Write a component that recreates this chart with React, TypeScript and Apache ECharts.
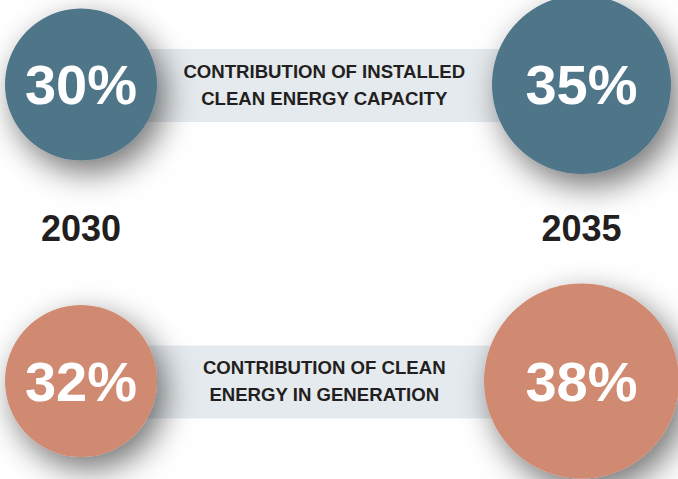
import React, { useEffect, useRef } from "react";
import * as echarts from "echarts";

const years = ["2030", "2035"];
const metrics = [
  "CONTRIBUTION OF INSTALLED\nCLEAN ENERGY CAPACITY",
  "CONTRIBUTION OF CLEAN\nENERGY IN GENERATION",
];
const values2030 = [30, 32];
const values2035 = [35, 38];

// styling (not data)
const rowColors = ["#4f7589", "#d08a72"];
const diameters = [
  [152, 179],
  [152, 195],
];
const FONT = '"Liberation Sans", Arial, Helvetica, sans-serif';

export default function App() {
  const ref = useRef<HTMLDivElement>(null);
  useEffect(() => {
    if (!ref.current) return;
    const chart = echarts.init(ref.current, undefined, { renderer: "svg" });
    const points: any[] = [];
    metrics.forEach((_, row) => {
      [values2030[row], values2035[row]].forEach((v, col) => {
        points.push({
          value: [col, row, v],
          symbolSize: diameters[row][col],
          itemStyle: { color: rowColors[row] },
        });
      });
    });
    chart.setOption({
      animation: false,
      backgroundColor: "#ffffff",
      grid: { left: 81, right: 96.5, top: 84.5, bottom: 98, containLabel: false },
      xAxis: {
        type: "category",
        data: years,
        boundaryGap: false,
        position: "bottom",
        offset: -152.5,
        axisLine: { show: false },
        axisTick: { show: false },
        splitLine: { show: false },
        axisLabel: {
          margin: 0,
          verticalAlign: "middle",
          fontSize: 36,
          fontWeight: "bold",
          fontFamily: FONT,
          color: "#231f20",
        },
      },
      yAxis: {
        type: "category",
        data: metrics,
        inverse: true,
        boundaryGap: false,
        show: false,
      },
      series: [
        {
          type: "custom",
          z: 1,
          data: metrics.map((_, i) => [i]),
          encode: { y: 0 },
          renderItem: (params: any, api: any) => {
            const row = api.value(0);
            const p1 = api.coord([0, row]);
            const p2 = api.coord([1, row]);
            const h = 73;
            return {
              type: "group",
              children: [
                {
                  type: "rect",
                  shape: { x: p1[0], y: p1[1] - h / 2 + 1, width: p2[0] - p1[0], height: h },
                  style: { fill: "#e5eaee" },
                },
                {
                  type: "text",
                  style: {
                    text: metrics[row],
                    x: (p1[0] + p2[0]) / 2 - 7,
                    y: p1[1],
                    align: "center",
                    verticalAlign: "middle",
                    fontSize: 18.6,
                    fontWeight: "bold",
                    fontFamily: FONT,
                    lineHeight: 27,
                    fill: "#231f20",
                  },
                },
              ],
            };
          },
        },
        {
          type: "scatter",
          z: 2,
          clip: false,
          symbol: "circle",
          data: points,
          itemStyle: {
            opacity: 1,
            shadowBlur: 32,
            shadowColor: "rgba(0,0,0,0.55)",
            shadowOffsetX: 8,
            shadowOffsetY: 12,
          },
          label: {
            show: true,
            position: "inside",
            formatter: (p: any) => p.value[2] + "%",
            fontSize: 56,
            fontWeight: "bold",
            fontFamily: FONT,
            color: "#ffffff",
          },
          emphasis: { disabled: true },
        },
      ],
    });
    return () => chart.dispose();
  }, []);
  return (
    <div
      ref={ref}
      style={{ position: "fixed", left: 0, top: 0, width: 678, height: 479 }}
    />
  );
}
